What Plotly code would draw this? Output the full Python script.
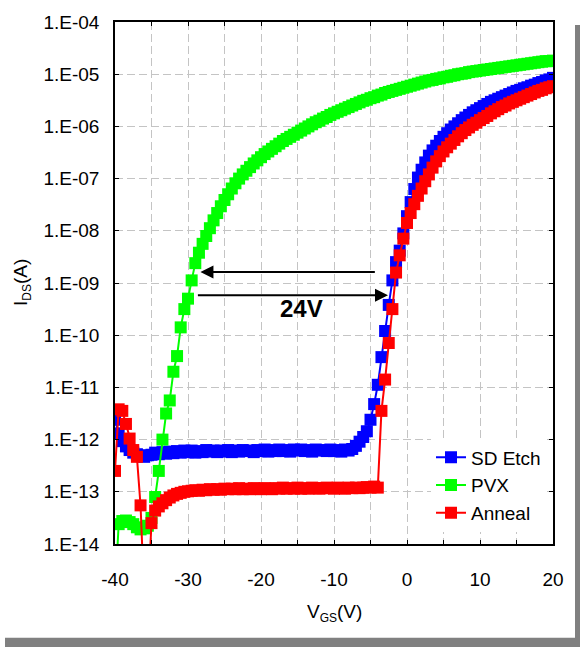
import plotly.graph_objects as go

# ---------------- data ----------------
vgs = [
    -40.0, -39.5, -39.0, -38.5, -38.0, -37.5, -37.0, -36.5, -36.0, -35.5,
    -35.0, -34.5, -34.0, -33.5, -33.0, -32.5, -32.0, -31.5, -31.0, -30.5,
    -30.0, -29.5, -29.0, -28.5, -28.0, -27.5, -27.0, -26.5, -26.0, -25.5,
    -25.0, -24.5, -24.0, -23.5, -23.0, -22.5, -22.0, -21.5, -21.0, -20.5,
    -20.0, -19.5, -19.0, -18.5, -18.0, -17.5, -17.0, -16.5, -16.0, -15.5,
    -15.0, -14.5, -14.0, -13.5, -13.0, -12.5, -12.0, -11.5, -11.0, -10.5,
    -10.0, -9.5, -9.0, -8.5, -8.0, -7.5, -7.0, -6.5, -6.0, -5.5,
    -5.0, -4.5, -4.0, -3.5, -3.0, -2.5, -2.0, -1.5, -1.0, -0.5,
    0.0, 0.5, 1.0, 1.5, 2.0, 2.5, 3.0, 3.5, 4.0, 4.5,
    5.0, 5.5, 6.0, 6.5, 7.0, 7.5, 8.0, 8.5, 9.0, 9.5,
    10.0, 10.5, 11.0, 11.5, 12.0, 12.5, 13.0, 13.5, 14.0, 14.5,
    15.0, 15.5, 16.0, 16.5, 17.0, 17.5, 18.0, 18.5, 19.0, 19.5,
    20.0,
]

# log10(Ids / A)
sd_etch_log = [
    -11.62, -11.88, -12.03, -12.13, -12.20, -12.25, -12.28, -12.31, -12.33, -12.30,
    -12.29, -12.25, -12.28, -12.24, -12.27, -12.23, -12.26, -12.22, -12.25, -12.21,
    -12.24, -12.21, -12.25, -12.22, -12.24, -12.20, -12.23, -12.21, -12.24, -12.21,
    -12.23, -12.20, -12.24, -12.21, -12.23, -12.20, -12.22, -12.21, -12.24, -12.20,
    -12.22, -12.19, -12.23, -12.20, -12.22, -12.19, -12.22, -12.20, -12.23, -12.19,
    -12.21, -12.19, -12.22, -12.20, -12.23, -12.19, -12.21, -12.20, -12.22, -12.19,
    -12.22, -12.20, -12.23, -12.19, -12.21, -12.18, -12.12, -12.04, -11.95, -11.84,
    -11.62, -11.32, -10.95, -10.42, -9.92, -9.42, -8.95, -8.60, -8.38, -8.05,
    -7.72, -7.45, -7.20, -6.98, -6.83, -6.69, -6.56, -6.46, -6.37, -6.28,
    -6.20, -6.13, -6.06, -6.00, -5.94, -5.88, -5.83, -5.78, -5.73, -5.69,
    -5.65, -5.61, -5.57, -5.53, -5.50, -5.47, -5.44, -5.41, -5.38, -5.35,
    -5.32, -5.30, -5.27, -5.25, -5.22, -5.20, -5.17, -5.15, -5.12, -5.10,
    -5.07,
]

pvx_log = [
    -15.00, -13.62, -13.56, -13.55, -13.58, -13.62, -13.68, -13.72, -13.70, -13.65,
    -13.50, -13.10, -12.60, -12.00, -11.50, -11.25, -10.70, -10.40, -9.85, -9.50,
    -9.30, -8.95, -8.62, -8.42, -8.25, -8.10, -7.95, -7.80, -7.66, -7.53,
    -7.41, -7.30, -7.19, -7.09, -7.00, -6.92, -6.85, -6.78, -6.71, -6.65,
    -6.59, -6.53, -6.48, -6.43, -6.38, -6.33, -6.28, -6.24, -6.20, -6.16,
    -6.12, -6.08, -6.04, -6.00, -5.96, -5.92, -5.89, -5.85, -5.82, -5.78,
    -5.75, -5.72, -5.69, -5.66, -5.63, -5.60, -5.57, -5.54, -5.51, -5.49,
    -5.46, -5.44, -5.41, -5.39, -5.36, -5.34, -5.32, -5.30, -5.28, -5.26,
    -5.24, -5.22, -5.20, -5.18, -5.16, -5.14, -5.12, -5.11, -5.09, -5.08,
    -5.06, -5.05, -5.03, -5.02, -5.00, -4.99, -4.98, -4.96, -4.95, -4.94,
    -4.93, -4.92, -4.91, -4.90, -4.89, -4.88, -4.87, -4.86, -4.85, -4.84,
    -4.83, -4.82, -4.81, -4.80, -4.79, -4.78, -4.77, -4.76, -4.75, -4.75,
    -4.74,
]

anneal_log = [
    -12.60, -11.42, -11.45, -11.70, -11.98, -12.20, -12.33, -13.26, -15.00, -15.00,
    -13.60, -13.36, -13.28, -13.22, -13.16, -13.11, -13.07, -13.04, -13.02, -13.00,
    -12.99, -12.98, -12.97, -12.98, -12.96, -12.97, -12.95, -12.96, -12.95, -12.96,
    -12.94, -12.95, -12.94, -12.95, -12.93, -12.95, -12.94, -12.95, -12.93, -12.94,
    -12.95, -12.93, -12.94, -12.95, -12.93, -12.94, -12.92, -12.94, -12.93, -12.94,
    -12.92, -12.94, -12.93, -12.94, -12.92, -12.93, -12.94, -12.93, -12.92, -12.93,
    -12.94, -12.92, -12.93, -12.94, -12.92, -12.93, -12.92, -12.93, -12.92, -12.91,
    -12.92, -12.90, -12.92, -11.45, -10.85, -10.15, -9.50, -8.80, -8.47, -8.15,
    -7.85, -7.66, -7.49, -7.33, -7.19, -7.05, -6.92, -6.79, -6.67, -6.57,
    -6.48, -6.40, -6.33, -6.26, -6.19, -6.13, -6.07, -6.02, -5.97, -5.93,
    -5.88, -5.84, -5.80, -5.75, -5.71, -5.67, -5.63, -5.60, -5.56, -5.53,
    -5.50, -5.47, -5.44, -5.41, -5.38, -5.35, -5.32, -5.30, -5.27, -5.25,
    -5.23,
]

series_names = ["SD Etch", "PVX", "Anneal"]
series_colors = ["#0000FF", "#00FF00", "#FF0000"]

x_tickvals = [-40, -30, -20, -10, 0, 10, 20]
x_ticktext = ["-40", "-30", "-20", "-10", "0", "10", "20"]
y_tickvals = [1e-14, 1e-13, 1e-12, 1e-11, 1e-10, 1e-9, 1e-8, 1e-7, 1e-6, 1e-5, 1e-4]
y_ticktext = ["1.E-14", "1.E-13", "1.E-12", "1.E-11", "1.E-10", "1.E-09",
              "1.E-08", "1.E-07", "1.E-06", "1.E-05", "1.E-04"]

# ---------------- figure ----------------
FONT = "Liberation Sans, Arial, sans-serif"
W, H = 580, 647
ML, MR, MT, MB = 115, 27, 20, 103
PW, PH = W - ML - MR, H - MT - MB


def px_x(p):
    return (p - ML) / PW


def px_y(p):
    return (H - MB - p) / PH


fig = go.Figure()
for name, color, logs in zip(series_names, series_colors,
                             [sd_etch_log, pvx_log, anneal_log]):
    fig.add_trace(go.Scatter(
        x=vgs, y=[10 ** v for v in logs], name=name, mode="lines+markers",
        line=dict(color=color, width=2),
        marker=dict(symbol="square", size=12, color=color, line=dict(width=0)),
    ))

GRIDC = "#c4c4c4"
DASH = "8px,4px"

fig.update_xaxes(
    range=[-40, 20], tickmode="array", tickvals=x_tickvals, ticktext=x_ticktext,
    ticks="inside", ticklen=4, tickcolor="black", showline=True, linecolor="black",
    linewidth=1.5, mirror="ticks", zeroline=False,
    tickfont=dict(family=FONT, size=19, color="black"), ticklabelstandoff=17,
    showgrid=True, gridcolor=GRIDC, gridwidth=1, griddash=DASH,
    minor=dict(tickmode="linear", tick0=-35, dtick=10, ticks="inside", ticklen=4,
               tickcolor="black", showgrid=True, gridcolor=GRIDC, gridwidth=1,
               griddash=DASH),
)
fig.update_yaxes(
    type="log", range=[-14, -4], tickmode="array", tickvals=y_tickvals,
    ticktext=y_ticktext, ticks="inside", ticklen=4, tickcolor="black",
    showline=True, linecolor="black", linewidth=1.5, mirror="ticks", zeroline=False,
    tickfont=dict(family=FONT, size=19, color="black"), ticklabelstandoff=10,
    showgrid=True, gridcolor=GRIDC, gridwidth=1, griddash=DASH,
)

annotations = [
    # arrows
    dict(x=-28.3, y=-8.79, ax=-4.2, ay=-8.79, xref="x", yref="y", axref="x", ayref="y",
         showarrow=True, arrowhead=2, arrowsize=1.3, arrowwidth=2, arrowcolor="black",
         text=""),
    dict(x=-2.6, y=-9.235, ax=-28.85, ay=-9.235, xref="x", yref="y", axref="x",
         ayref="y", showarrow=True, arrowhead=2, arrowsize=1.3, arrowwidth=2,
         arrowcolor="black", text=""),
    dict(x=-14.4, y=-9.49, xref="x", yref="y", text="<b>24V</b>", showarrow=False,
         xanchor="center", yanchor="middle",
         font=dict(family=FONT, size=24, color="black")),
    # axis titles
    dict(x=px_x(22), y=0.5, xref="paper", yref="paper",
         text="I<sub><span style='font-size:12px'>DS</span></sub>(A)",
         xanchor="center", yanchor="middle",
         textangle=-90, showarrow=False, font=dict(family=FONT, size=19, color="black")),
    dict(x=px_x(334), y=px_y(613), xref="paper", yref="paper",
         text="V<sub><span style='font-size:12px'>GS</span></sub>(V)",
         xanchor="center", yanchor="middle",
         showarrow=False, font=dict(family=FONT, size=19, color="black")),
]

shapes = [
    dict(type="rect", xref="paper", yref="paper", x0=px_x(575), x1=px_x(581),
         y0=px_y(648), y1=px_y(23), fillcolor="#808080", line=dict(width=0)),
    dict(type="rect", xref="paper", yref="paper", x0=px_x(5), x1=px_x(581),
         y0=px_y(648), y1=px_y(638), fillcolor="#808080", line=dict(width=0)),
]

fig.update_layout(
    width=W, height=H, margin=dict(l=ML, r=MR, t=MT, b=MB),
    paper_bgcolor="white", plot_bgcolor="white",
    font=dict(family=FONT, size=19, color="black"),
    showlegend=True,
    legend=dict(x=px_x(431), y=px_y(438), xanchor="left", yanchor="top",
                bgcolor="white", borderwidth=0,
                font=dict(family=FONT, size=19, color="black")),
    annotations=annotations, shapes=shapes,
)

fig.write_html(
    "out.html",
    config={"displayModeBar": False},
    post_script="document.body.style.margin='0';document.body.style.overflow='hidden';",
)
